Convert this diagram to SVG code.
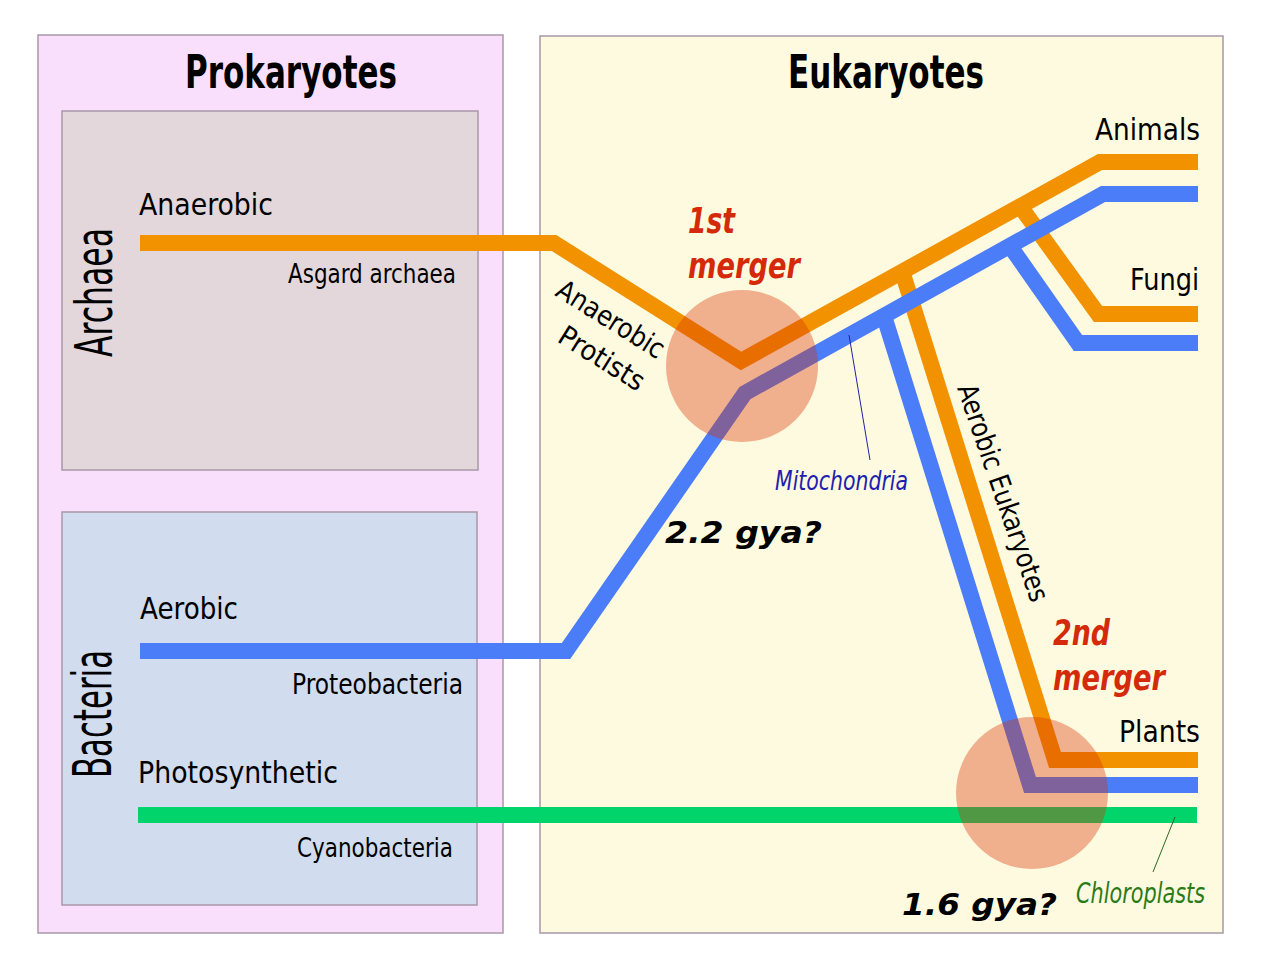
<svg xmlns="http://www.w3.org/2000/svg" width="1267" height="969" viewBox="0 0 1267 969">
<style>
text{font-family:"DejaVu Sans Condensed","DejaVu Sans","Liberation Sans",sans-serif;font-stretch:condensed;fill:#000}
.title{font-weight:bold;font-size:46px}
.side{font-size:52px}
.lab{font-size:31px}
.sub{font-size:26px}
.merge{font-weight:bold;font-style:italic;font-size:35px;fill:#d42a0a}
.gya{font-weight:bold;font-style:italic;font-size:31px}
.line{fill:none;stroke-width:16;stroke-linejoin:miter;stroke-linecap:butt}
.or{stroke:#f39200}
.bl{stroke:#4b7df8}
.gr{stroke:#00d46b}
.circ{fill:#d83000;opacity:0.37}
.box{stroke:#a898a8;stroke-width:1.5}
</style>
<rect width="1267" height="969" fill="#ffffff"/>
<g id="prokaryotes">
<rect class="box" x="38" y="35" width="465" height="898" fill="#f9dffb"/>
<text class="title" x="185" y="88" textLength="212" lengthAdjust="spacingAndGlyphs">Prokaryotes</text>
</g>
<g id="eukaryotes">
<rect class="box" x="540" y="36" width="683" height="897" fill="#fefae0"/>
<text class="title" x="788" y="88" textLength="196" lengthAdjust="spacingAndGlyphs">Eukaryotes</text>
</g>
<g id="archaea">
<rect class="box" x="62" y="111" width="416" height="359" fill="#e3d7dc"/>
<text class="side" transform="translate(112,357) rotate(-90)" textLength="129" lengthAdjust="spacingAndGlyphs">Archaea</text>
<text class="lab" x="139" y="215" textLength="134" lengthAdjust="spacingAndGlyphs">Anaerobic</text>
<text class="sub" x="288" y="283" textLength="168" lengthAdjust="spacingAndGlyphs">Asgard archaea</text>
</g>
<g id="bacteria">
<rect class="box" x="62" y="512" width="415" height="393" fill="#d1dcef"/>
<text class="side" style="font-size:54px" transform="translate(111,778) rotate(-90)" textLength="128" lengthAdjust="spacingAndGlyphs">Bacteria</text>
<text class="lab" x="140" y="619" textLength="98" lengthAdjust="spacingAndGlyphs">Aerobic</text>
<text class="sub" style="font-size:28px" x="292" y="694" textLength="171" lengthAdjust="spacingAndGlyphs">Proteobacteria</text>
<text class="lab" x="138" y="783" textLength="200" lengthAdjust="spacingAndGlyphs">Photosynthetic</text>
<text class="sub" x="297" y="857" textLength="156" lengthAdjust="spacingAndGlyphs">Cyanobacteria</text>
</g>
<g id="connectors">
<path class="line or" d="M140,243 L554,243 L741,361 L1100,162 L1198,162"/>
<path class="line or" d="M1020,206 L1098,314 L1198,314"/>
<path class="line or" d="M902,271 L1055,760 L1198,760"/>
<path class="line bl" d="M140,651 L566,651 L745,393 L1103,194 L1198,194"/>
<path class="line bl" d="M1010,246 L1078,343 L1198,343"/>
<path class="line bl" d="M884,316 L1030,785 L1198,785"/>
<path class="line gr" d="M138,815 L1197,815"/>
<line x1="849" y1="335" x2="870" y2="460" stroke="#2020b0" stroke-width="1"/>
<line x1="1175" y1="817" x2="1153" y2="872" stroke="#2a6a20" stroke-width="1"/>
</g>
<g id="merger1">
<circle class="circ" cx="742" cy="366" r="76"/>
<text class="merge" x="688" y="233" textLength="47" lengthAdjust="spacingAndGlyphs">1st</text>
<text class="merge" x="688" y="278" textLength="112" lengthAdjust="spacingAndGlyphs">merger</text>
<text class="gya" x="665" y="543" textLength="157" lengthAdjust="spacingAndGlyphs">2.2 gya?</text>
</g>
<g id="merger2">
<circle class="circ" cx="1032" cy="793" r="76"/>
<text class="merge" x="1053" y="645" textLength="57" lengthAdjust="spacingAndGlyphs">2nd</text>
<text class="merge" x="1053" y="690" textLength="112" lengthAdjust="spacingAndGlyphs">merger</text>
<text class="gya" x="902" y="915" textLength="155" lengthAdjust="spacingAndGlyphs">1.6 gya?</text>
</g>
<g id="protists">
<text class="sub" style="font-size:28px" transform="translate(554,295) rotate(32)" textLength="122" lengthAdjust="spacingAndGlyphs">Anaerobic</text>
<text class="sub" style="font-size:28px" transform="translate(556,341) rotate(32)" textLength="96" lengthAdjust="spacingAndGlyphs">Protists</text>
</g>
<g id="aerobic-eukaryotes">
<text class="sub" style="font-size:28px" transform="translate(957,388) rotate(71)" textLength="228" lengthAdjust="spacingAndGlyphs">Aerobic Eukaryotes</text>
</g>
<g id="animals"><text class="lab" x="1095" y="140" textLength="105" lengthAdjust="spacingAndGlyphs">Animals</text></g>
<g id="fungi"><text class="lab" x="1130" y="290" textLength="69" lengthAdjust="spacingAndGlyphs">Fungi</text></g>
<g id="plants"><text class="lab" x="1119" y="742" textLength="81" lengthAdjust="spacingAndGlyphs">Plants</text></g>
<g id="mitochondria"><text style="font-style:italic;font-size:27px;fill:#2020b0" x="775" y="490" textLength="133" lengthAdjust="spacingAndGlyphs">Mitochondria</text></g>
<g id="chloroplasts"><text style="font-style:italic;font-size:28px;fill:#2a7a18" x="1076" y="903" textLength="129" lengthAdjust="spacingAndGlyphs">Chloroplasts</text></g>
</svg>
